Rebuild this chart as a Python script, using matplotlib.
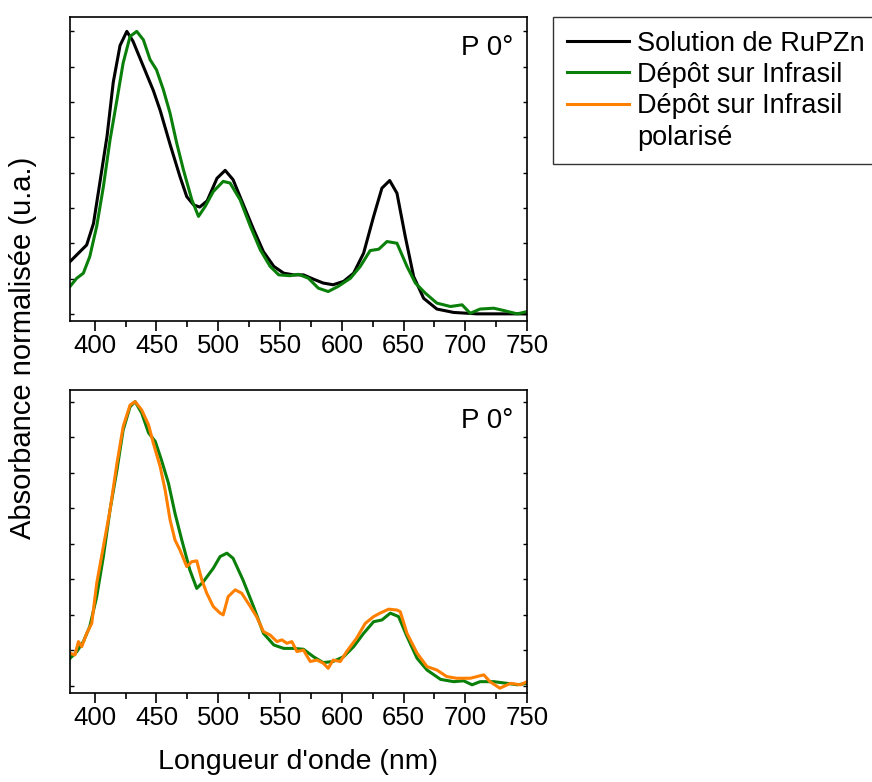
import matplotlib
matplotlib.use("Agg")
import matplotlib.pyplot as plt
from matplotlib.lines import Line2D
from matplotlib.ticker import MultipleLocator

plt.rcParams['font.family'] = ['Liberation Sans', 'DejaVu Sans']

# --- data (normalised absorbance) ---
wl_sol = [380, 393.5, 399, 404, 410, 415, 420.5, 426, 431, 439, 447.5, 453, 461, 469,
          474.5, 480, 485, 491, 499, 505.6, 512, 520, 528.5, 536.6, 545, 553, 561, 569,
          577, 585, 593, 601.5, 609.6, 617.7, 625.8, 632.5, 638.8, 644.7, 651.4, 658.2,
          666.3, 677, 690.6, 709.5, 750]
abs_sol = [0.185, 0.244, 0.32, 0.46, 0.63, 0.82, 0.95, 1.0, 0.965, 0.88, 0.79, 0.72,
           0.60, 0.486, 0.415, 0.386, 0.378, 0.40, 0.48, 0.508, 0.475, 0.39, 0.30, 0.22,
           0.168, 0.144, 0.138, 0.138, 0.123, 0.109, 0.103, 0.115, 0.144, 0.215, 0.345,
           0.445, 0.472, 0.427, 0.274, 0.132, 0.055, 0.017, 0.005, 0.0, 0.0]

wl_dep = [380, 385.4, 390.8, 396, 401.6, 407, 412.4, 418, 423, 428.6, 434, 439.4, 444.8,
          450, 455.6, 461, 466.4, 471.8, 478.6, 484, 489.4, 496, 504, 509.6, 517.7, 526,
          534, 542, 549, 558, 565, 573, 581, 589, 597, 607, 615, 623, 630, 636.6, 644.7,
          652.8, 659.6, 667.7, 677, 688, 697.4, 704, 712, 723, 731, 742, 750]
abs_dep = [0.097, 0.126, 0.144, 0.203, 0.31, 0.45, 0.616, 0.758, 0.888, 0.982, 1.0, 0.97,
           0.90, 0.864, 0.793, 0.71, 0.604, 0.51, 0.404, 0.345, 0.38, 0.433, 0.469, 0.463,
           0.404, 0.31, 0.227, 0.168, 0.138, 0.135, 0.14, 0.126, 0.091, 0.079, 0.097,
           0.126, 0.168, 0.224, 0.229, 0.256, 0.25, 0.168, 0.109, 0.073, 0.038, 0.026,
           0.032, 0.002, 0.017, 0.02, 0.012, 0.0, 0.008]

wl_dep2 = [380, 385.4, 390.8, 396, 401.6, 407, 412.4, 418, 423, 428.6, 432.7, 438, 443.6,
           449, 454, 459.7, 465, 470.5, 477, 482.6, 488, 496, 501.5, 507, 512, 520, 528.5,
           536.6, 545, 553, 561, 569, 577, 585, 593, 601.5, 609.6, 617.7, 625.8, 632.5,
           639.3, 646, 652.8, 661, 669, 680, 690.6, 698.7, 705.5, 712, 723, 734, 742, 750]
abs_dep2 = [0.097, 0.12, 0.156, 0.209, 0.314, 0.455, 0.619, 0.76, 0.90, 0.982, 1.0, 0.96,
            0.89, 0.86, 0.795, 0.713, 0.607, 0.513, 0.408, 0.343, 0.367, 0.414, 0.455,
            0.467, 0.449, 0.373, 0.28, 0.185, 0.144, 0.132, 0.132, 0.129, 0.103, 0.082,
            0.086, 0.103, 0.138, 0.185, 0.226, 0.232, 0.256, 0.244, 0.174, 0.097, 0.056,
            0.023, 0.015, 0.018, 0.004, 0.015, 0.015, 0.009, 0.004, 0.009]

wl_pol = [380, 384, 386.8, 389.5, 393.5, 397.6, 401.6, 407, 412.4, 418, 423, 428.6, 432.7,
          438, 443.6, 447.5, 453, 457, 461, 465, 469, 474.5, 478.6, 482.6, 486.7, 490.7,
          496, 501.5, 504, 508, 513.7, 519, 526, 531, 536.6, 542, 547.5, 551.5, 555.6,
          559.6, 563.7, 569, 574.5, 580, 585, 589, 593, 598.8, 604, 612, 619, 625.8, 631,
          638, 644.7, 647.4, 652.8, 661, 669, 677, 685, 693, 704, 715, 720, 728, 736.5,
          744.6, 750]
abs_pol = [0.115, 0.109, 0.156, 0.138, 0.185, 0.22, 0.361, 0.49, 0.619, 0.783, 0.912,
           0.988, 1.0, 0.971, 0.918, 0.853, 0.771, 0.689, 0.584, 0.513, 0.478, 0.42, 0.437,
           0.44, 0.373, 0.326, 0.279, 0.256, 0.25, 0.314, 0.338, 0.326, 0.279, 0.244,
           0.191, 0.179, 0.156, 0.162, 0.15, 0.156, 0.121, 0.126, 0.086, 0.091, 0.08, 0.062,
           0.091, 0.086, 0.121, 0.168, 0.22, 0.244, 0.256, 0.27, 0.267, 0.261, 0.185, 0.115,
           0.068, 0.056, 0.033, 0.027, 0.027, 0.039, 0.015, -0.008, 0.009, 0.004, 0.015]

# last legend label wraps onto a second line in the original
labels = ["Solution de RuPZn", "Dépôt sur Infrasil", "Dépôt sur Infrasil", "polarisé"]
colors = ["black", "#0a800a", "#ff8000"]
x_ticks = [400, 450, 500, 550, 600, 650, 700, 750]

fig = plt.figure(figsize=(8.72, 7.82), dpi=100)
ax1 = fig.add_axes([0.0803, 0.5889, 0.5241, 0.3894])
ax2 = fig.add_axes([0.0803, 0.1134, 0.5241, 0.3879])

l1, = ax1.plot(wl_sol, abs_sol, color=colors[0], lw=2.2)
l2, = ax1.plot(wl_dep, abs_dep, color=colors[1], lw=2.2)
ax2.plot(wl_dep2, abs_dep2, color=colors[1], lw=2.2)
l3, = ax2.plot(wl_pol, abs_pol, color=colors[2], lw=2.2)
blank = Line2D([], [], linestyle='none')

for ax, ylim in ((ax1, (-0.027, 1.051)), (ax2, (-0.026, 1.041))):
    ax.set_xlim(380, 750)
    ax.set_ylim(*ylim)
    ax.set_xticks(x_ticks)
    ax.xaxis.set_minor_locator(MultipleLocator(25))
    ax.tick_params(axis='x', which='major', direction='out', length=7, width=1.2,
                   labelsize=18.5, pad=2)
    ax.tick_params(axis='x', which='minor', direction='out', length=4, width=1.2)
    ax.set_yticks([i * 0.125 for i in range(9)])
    ax.tick_params(axis='y', direction='in', length=3, width=1, left=True, right=True,
                   labelleft=False)
    for sp in ax.spines.values():
        sp.set_linewidth(1.2)
    ax.text(0.97, 0.94, "P 0°", transform=ax.transAxes, ha='right', va='top', fontsize=20)

fig.text(0.026, 0.555, "Absorbance normalisée (u.a.)", rotation=90, ha='center',
         va='center', fontsize=21)
fig.text(0.342, 0.026, "Longueur d'onde (nm)", ha='center', va='center', fontsize=20.5)

leg = fig.legend(handles=[l1, l2, l3, blank], labels=labels, loc='upper left',
                 bbox_to_anchor=(553 / 872, 1 - 17 / 782), borderaxespad=0,
                 fontsize=19.5, frameon=True, fancybox=False, edgecolor='black',
                 handlelength=2.3, handletextpad=0.3, labelspacing=0.2,
                 borderpad=0.5)
leg.get_frame().set_linewidth(1.0)

fig.savefig("out.png", dpi=100)
